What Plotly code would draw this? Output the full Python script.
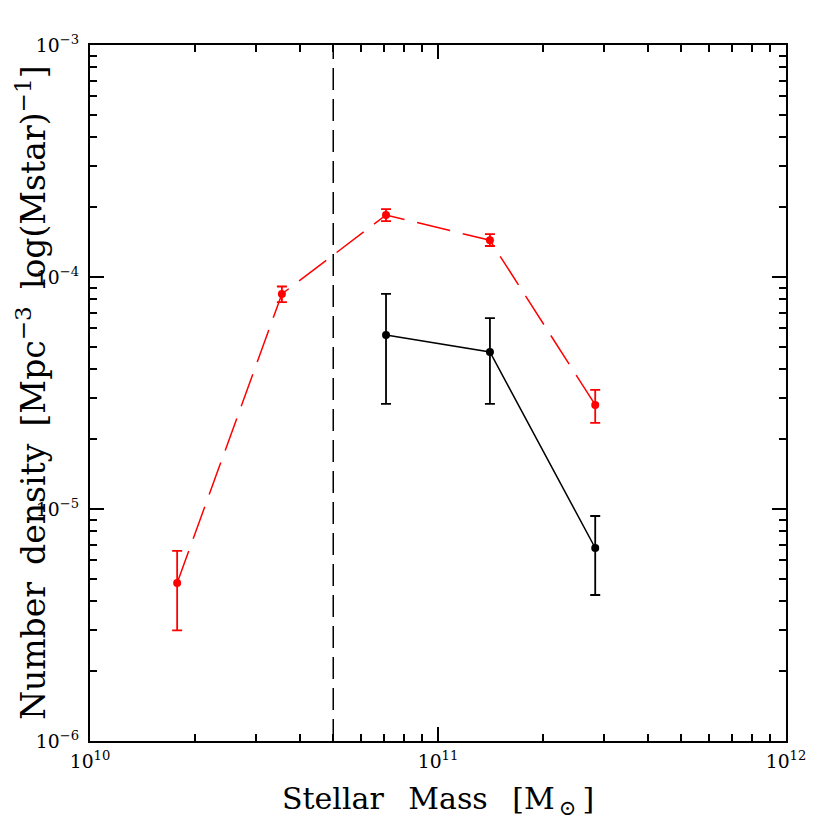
import plotly.graph_objects as go

# Data
red_mass = [1.78e10, 3.56e10, 7.09e10, 1.41e11, 2.83e11]
red_dens = [4.8e-6, 8.45e-5, 1.85e-4, 1.44e-4, 2.81e-5]
red_err_hi = [6.6e-6, 9.1e-5, 1.96e-4, 1.53e-4, 3.26e-5]
red_err_lo = [3.0e-6, 7.8e-5, 1.74e-4, 1.36e-4, 2.35e-5]

blk_mass = [7.09e10, 1.41e11, 2.83e11]
blk_dens = [5.62e-5, 4.75e-5, 6.79e-6]
blk_err_hi = [8.45e-5, 6.65e-5, 9.33e-6]
blk_err_lo = [2.84e-5, 2.84e-5, 4.26e-6]

mass_cut = 5.0e10
y_range = [1e-6, 1e-3]

fig = go.Figure()

fig.add_trace(go.Scatter(
    x=[mass_cut, mass_cut], y=y_range, mode="lines",
    line=dict(color="black", width=1.5, dash="22px,9px"),
    showlegend=False, hoverinfo="skip"))

fig.add_trace(go.Scatter(
    x=red_mass, y=red_dens, mode="lines+markers",
    line=dict(color="red", width=1.5, dash="34px,13px"),
    marker=dict(color="red", size=8),
    error_y=dict(type="data", symmetric=False,
                 array=[h - v for h, v in zip(red_err_hi, red_dens)],
                 arrayminus=[v - l for v, l in zip(red_dens, red_err_lo)],
                 color="red", thickness=1.8, width=5),
    showlegend=False))

fig.add_trace(go.Scatter(
    x=blk_mass, y=blk_dens, mode="lines+markers",
    line=dict(color="black", width=1.5),
    marker=dict(color="black", size=8),
    error_y=dict(type="data", symmetric=False,
                 array=[h - v for h, v in zip(blk_err_hi, blk_dens)],
                 arrayminus=[v - l for v, l in zip(blk_dens, blk_err_lo)],
                 color="black", thickness=1.8, width=5),
    showlegend=False))

tickfont = dict(family="DejaVu Serif", size=15, color="black")
axis_common = dict(
    type="log", showgrid=False, zeroline=False,
    showline=True, linecolor="black", linewidth=2, mirror="allticks",
    ticks="inside", ticklen=14, tickwidth=1.5, tickcolor="black",
    exponentformat="power", dtick=1, tickfont=tickfont,
    minor=dict(ticks="inside", ticklen=7, tickwidth=1.5, tickcolor="black",
               dtick="D1", showgrid=False),
)

fig.update_xaxes(range=[10, 12], ticklabelstandoff=3, **axis_common)
fig.update_yaxes(range=[-6, -3], ticklabelstandoff=6, **axis_common)

sp = " \u2002"
fig.add_annotation(
    text="Stellar" + sp + "Mass" + sp + "[M<sub>\u2009⊙</sub>\u2009]",
    xref="paper", yref="paper",
    x=0.5, y=-0.085, yanchor="middle", showarrow=False,
    font=dict(family="DejaVu Serif", size=30, color="black"))
sp2 = " \u2009"
fig.add_annotation(
    text="Number" + sp2 + "density" + sp2 + "[Mpc<sup>−3</sup>" + sp2
         + "log(Mstar)<sup>−1</sup>]",
    xref="paper", yref="paper", x=-0.085, y=0.5, xanchor="center",
    yanchor="middle", textangle=-90, showarrow=False,
    font=dict(family="DejaVu Serif", size=33, color="black"))

fig.update_layout(
    width=822, height=822,
    margin=dict(l=82, r=44, t=37, b=89),
    paper_bgcolor="white", plot_bgcolor="white",
    showlegend=False,
)

fig.write_html("out.html")
